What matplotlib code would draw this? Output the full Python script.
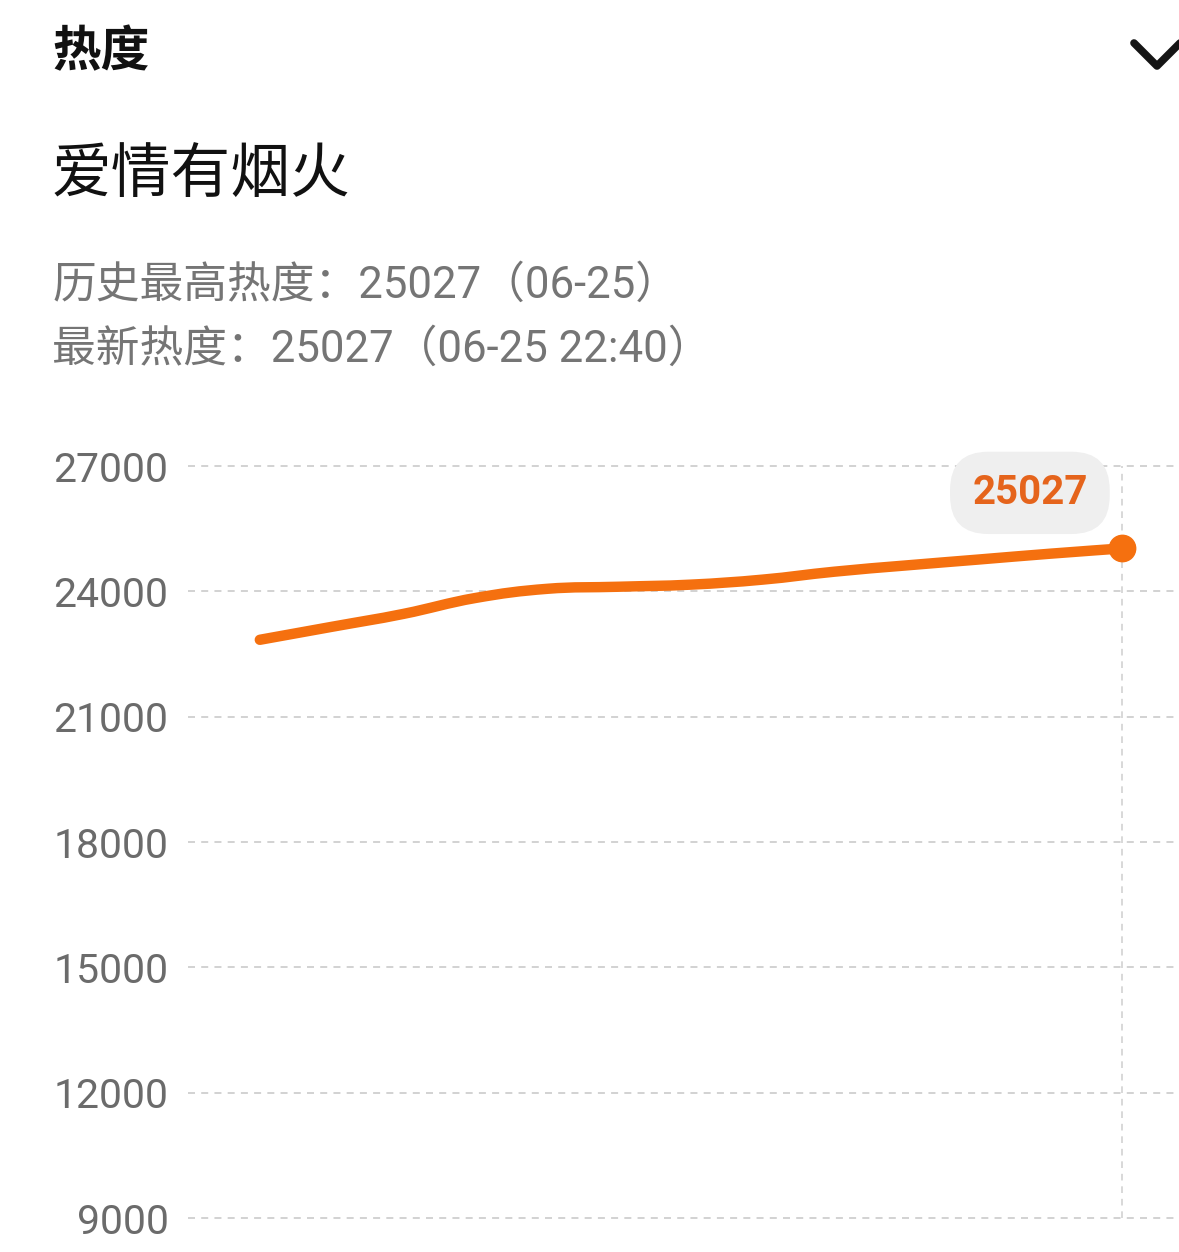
import matplotlib
matplotlib.use("Agg")
import matplotlib.pyplot as plt
from matplotlib.lines import Line2D
from matplotlib.path import Path
from matplotlib.patches import PathPatch

# data: 10-min samples of the heat index
steps = [0, 1, 2, 3, 4, 5, 6, 7, 8, 9, 10, 11, 12]
heat = [22840, 23150, 23460, 23840, 24060, 24110, 24160, 24280, 24470, 24620, 24760, 24900, 25027]
yticks = [9000, 12000, 15000, 18000, 21000, 24000, 27000]
peak_label = "25027"

header = "热度"
title = "爱情有烟火"
info1 = "历史最高热度：25027（06-25）"
info2 = "最新热度：25027（06-25 22:40）"

W, H = 1179, 1252
cjk = ["Noto Sans CJK SC", "DejaVu Sans"]
num_cjk = ["Roboto", "Noto Sans CJK SC"]
orange = "#f5700f"
grid_c = "#d2d2d2"

fig = plt.figure(figsize=(W / 100, H / 100), dpi=100)
fig.patch.set_facecolor("white")


def fx(x):
    return x / W


def fy(y):
    return 1 - y / H


def smooth_path(xs, ys, k=0.2):
    # bezier through the points, like a "smooth" line in web charts
    verts = [(xs[0], ys[0])]
    codes = [Path.MOVETO]
    n = len(xs)
    for i in range(n - 1):
        p0 = max(i - 1, 0)
        p3 = min(i + 2, n - 1)
        c1 = (xs[i] + (xs[i + 1] - xs[p0]) * k, ys[i] + (ys[i + 1] - ys[p0]) * k)
        c2 = (xs[i + 1] - (xs[p3] - xs[i]) * k, ys[i + 1] - (ys[p3] - ys[i]) * k)
        verts += [c1, c2, (xs[i + 1], ys[i + 1])]
        codes += [Path.CURVE4] * 3
    return Path(verts, codes)


# header texts
fig.text(fx(52), fy(52), header, family=cjk, fontsize=35, fontweight="bold",
         color="#111111", va="center", ha="left")
fig.text(fx(52), fy(175), title, family=cjk, fontsize=43, fontweight="medium",
         color="#111111", va="center", ha="left")
fig.text(fx(52), fy(286), info1, family=num_cjk, fontsize=31.5,
         color="#757575", va="center", ha="left")
fig.text(fx(52), fy(350), info2, family=num_cjk, fontsize=31.5,
         color="#757575", va="center", ha="left")

# chevron top right
fig.add_artist(Line2D([fx(1134), fx(1157), fx(1182)], [fy(43), fy(66), fy(41)],
                      color="#151515", lw=5.5, solid_capstyle="round",
                      solid_joinstyle="round", transform=fig.transFigure))

# chart area
ax = fig.add_axes([fx(188), fy(1218), 1 - fx(188), (1218 - 466) / H])
ax.set_xlim(-1.0, 12.8)
ax.set_ylim(9000, 27000)
for s in ax.spines.values():
    s.set_visible(False)
ax.set_xticks([])
ax.set_yticks(yticks)
ax.set_yticklabels([str(t) for t in yticks], family="Roboto", va="center_baseline")
ax.tick_params(axis="y", length=0, pad=14, labelsize=29.5, labelcolor="#6b6b6b")

ax.hlines(yticks, -1.0, 12.8, colors=grid_c, lw=1.4,
          linestyles=(0, (3.6, 3.2)), clip_on=False, zorder=1)
ax.vlines(steps[-1], 9000, 27000, colors=grid_c, lw=1.2,
          linestyles=(0, (4.0, 3.5)), clip_on=False, zorder=1)

ax.add_patch(PathPatch(smooth_path(steps, heat), fc="none", ec=orange, lw=7.5,
                       capstyle="round", joinstyle="round", zorder=3))
ax.plot(steps[-1], heat[-1], "o", color=orange, markersize=19, zorder=4)

ax.annotate(peak_label, xy=(steps[-1], heat[-1]), xytext=(-66, 40),
            textcoords="offset points", ha="center", va="center",
            fontsize=29, fontweight="bold", family="Roboto", color="#e5641c",
            bbox=dict(boxstyle="round,pad=0.55,rounding_size=0.95",
                      fc="#efefef", ec="none"), zorder=5)

fig.savefig("out.png", dpi=100, facecolor="white")
